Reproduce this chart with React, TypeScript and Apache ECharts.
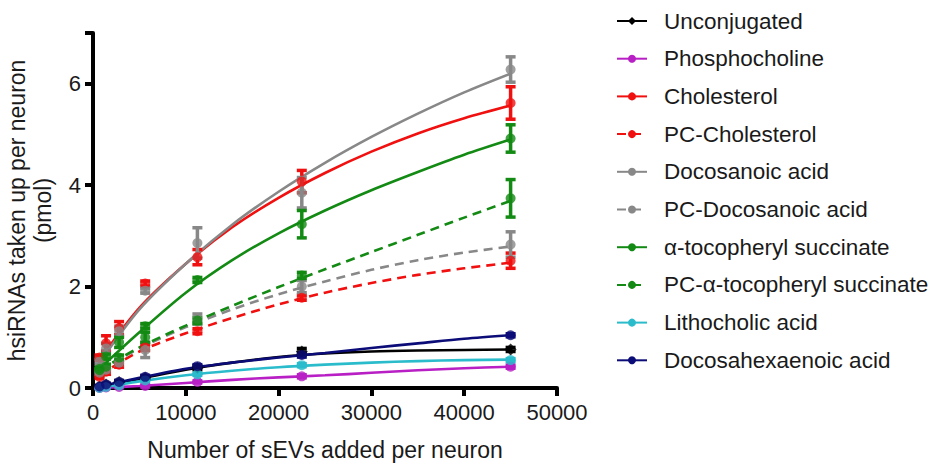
import React, { useEffect, useRef } from "react";
import * as echarts from "echarts";

const xPoints = [703, 1406, 2812, 5625, 11250, 22500, 45000];
const fitX = [703, 5000, 10000, 15000, 20000, 25000, 30000, 35000, 40000, 45000];

const names = [
  "Unconjugated",
  "Phosphocholine",
  "Cholesterol",
  "PC-Cholesterol",
  "Docosanoic acid",
  "PC-Docosanoic acid",
  "α-tocopheryl succinate",
  "PC-α-tocopheryl succinate",
  "Lithocholic acid",
  "Docosahexaenoic acid",
];

const colors = ["#000000", "#b81fc4", "#f01010", "#f01010", "#888888", "#888888", "#138a13", "#138a13", "#2bbccc", "#0c0c78"];
const dashed = [false, false, false, true, false, true, false, true, false, false];
const symbols = ["diamond", "circle", "circle", "circle", "circle", "circle", "circle", "circle", "circle", "circle"];

// measured means
const unconjugated = [0.03, 0.07, 0.12, 0.2, 0.4, 0.72, 0.76];
const phosphocholine = [0.0, 0.01, 0.02, 0.04, 0.12, 0.23, 0.42];
const cholesterol = [0.6, 0.88, 1.18, 2.06, 2.58, 4.07, 5.62];
const pcCholesterol = [0.22, 0.32, 0.46, 0.8, 1.12, 1.78, 2.51];
const docosanoic = [0.52, 0.78, 1.12, 1.92, 2.86, 3.85, 6.28];
const pcDocosanoic = [0.3, 0.36, 0.5, 0.75, 1.36, 2.0, 2.83];
const tocopheryl = [0.38, 0.62, 0.9, 1.22, 2.13, 3.23, 4.92];
const pcTocopheryl = [0.35, 0.42, 0.6, 1.0, 1.33, 2.22, 3.74];
const lithocholic = [0.0, 0.02, 0.05, 0.15, 0.27, 0.45, 0.55];
const docosahexaenoic = [0.03, 0.07, 0.12, 0.22, 0.43, 0.65, 1.04];

// error bars (±)
const errUnconjugated = [0.02, 0.02, 0.03, 0.03, 0.04, 0.06, 0.04];
const errPhosphocholine = [0.01, 0.01, 0.01, 0.02, 0.02, 0.03, 0.03];
const errCholesterol = [0.05, 0.15, 0.13, 0.05, 0.15, 0.22, 0.32];
const errPcCholesterol = [0.03, 0.05, 0.05, 0.06, 0.05, 0.05, 0.15];
const errDocosanoic = [0.05, 0.1, 0.1, 0.05, 0.3, 0.3, 0.25];
const errPcDocosanoic = [0.03, 0.05, 0.05, 0.15, 0.1, 0.12, 0.25];
const errTocopheryl = [0.03, 0.05, 0.1, 0.05, 0.05, 0.27, 0.27];
const errPcTocopheryl = [0.03, 0.05, 0.05, 0.1, 0.06, 0.06, 0.37];
const errLithocholic = [0.01, 0.01, 0.02, 0.02, 0.02, 0.03, 0.03];
const errDocosahexaenoic = [0.01, 0.02, 0.02, 0.03, 0.03, 0.04, 0.03];

// fitted curves read at fitX
const fitUnconjugated = [0.03, 0.18, 0.36, 0.5, 0.61, 0.68, 0.72, 0.74, 0.75, 0.76];
const fitPhosphocholine = [0.0, 0.04, 0.1, 0.16, 0.21, 0.25, 0.3, 0.35, 0.39, 0.42];
const fitCholesterol = [0.55, 1.58, 2.45, 3.17, 3.75, 4.24, 4.66, 5.02, 5.32, 5.57];
const fitPcCholesterol = [0.25, 0.72, 1.08, 1.38, 1.65, 1.88, 2.07, 2.23, 2.36, 2.47];
const fitDocosanoic = [0.5, 1.55, 2.45, 3.22, 3.87, 4.44, 4.95, 5.41, 5.83, 6.2];
const fitPcDocosanoic = [0.35, 0.78, 1.2, 1.55, 1.85, 2.1, 2.33, 2.52, 2.67, 2.79];
const fitTocopheryl = [0.38, 1.1, 1.88, 2.52, 3.05, 3.5, 3.9, 4.26, 4.6, 4.9];
const fitPcTocopheryl = [0.35, 0.8, 1.23, 1.62, 1.99, 2.34, 2.68, 3.02, 3.36, 3.69];
const fitLithocholic = [0.0, 0.13, 0.25, 0.34, 0.41, 0.46, 0.5, 0.53, 0.55, 0.56];
const fitDocosahexaenoic = [0.03, 0.2, 0.38, 0.5, 0.6, 0.69, 0.79, 0.88, 0.97, 1.04];

const means = [unconjugated, phosphocholine, cholesterol, pcCholesterol, docosanoic, pcDocosanoic, tocopheryl, pcTocopheryl, lithocholic, docosahexaenoic];
const errs = [errUnconjugated, errPhosphocholine, errCholesterol, errPcCholesterol, errDocosanoic, errPcDocosanoic, errTocopheryl, errPcTocopheryl, errLithocholic, errDocosahexaenoic];
const fits = [fitUnconjugated, fitPhosphocholine, fitCholesterol, fitPcCholesterol, fitDocosanoic, fitPcDocosanoic, fitTocopheryl, fitPcTocopheryl, fitLithocholic, fitDocosahexaenoic];

const xTicks = [0, 10000, 20000, 30000, 40000, 50000];
const yTicks = [0, 2, 4, 6];

const FONT = "'Liberation Sans', Arial, sans-serif";

export default function App() {
  const ref = useRef<HTMLDivElement>(null);
  useEffect(() => {
    if (!ref.current) return;
    const chart = echarts.init(ref.current, undefined, { renderer: "svg" });
    const series: any[] = [];
    names.forEach((name, i) => {
      series.push({
        name,
        type: "line",
        data: fitX.map((x, j) => [x, fits[i][j]]),
        smooth: 0.3,
        symbol: symbols[i],
        showSymbol: false,
        lineStyle: { color: colors[i], width: 2.6, type: dashed[i] ? [9, 6] : "solid" },
        itemStyle: { color: colors[i] },
        z: 2,
      });
    });
    names.forEach((name, i) => {
      series.push({
        name: name + " err",
        type: "custom",
        data: xPoints.map((x, j) => [x, means[i][j], means[i][j] - errs[i][j], means[i][j] + errs[i][j]]),
        renderItem: (params: any, api: any) => {
          const p = api.coord([api.value(0), api.value(1)]);
          const lo = api.coord([api.value(0), api.value(2)]);
          const hi = api.coord([api.value(0), api.value(3)]);
          const cw = 5;
          const st = { stroke: colors[i], lineWidth: 3.5 };
          return {
            type: "group",
            children: [
              { type: "line", shape: { x1: p[0], y1: lo[1], x2: p[0], y2: hi[1] }, style: st },
              { type: "line", shape: { x1: p[0] - cw, y1: lo[1], x2: p[0] + cw, y2: lo[1] }, style: st },
              { type: "line", shape: { x1: p[0] - cw, y1: hi[1], x2: p[0] + cw, y2: hi[1] }, style: st },
            ],
          };
        },
        z: 3,
      });
      series.push({
        name: name + " pts",
        type: "scatter",
        data: xPoints.map((x, j) => [x, means[i][j]]),
        symbol: symbols[i],
        symbolSize: symbols[i] === "diamond" ? 12 : 10,
        itemStyle: { color: colors[i] },
        z: 4,
      });
    });

    chart.setOption({
      animation: false,
      backgroundColor: "#ffffff",
      textStyle: { fontFamily: FONT },
      grid: { left: 93, right: 391, top: 33, bottom: 79, containLabel: false },
      legend: {
        data: names,
        orient: "vertical",
        left: 611,
        top: 4,
        itemWidth: 30,
        itemHeight: 10,
        itemGap: 13.7,
        selectedMode: false,
        textStyle: { fontSize: 22.5, lineHeight: 24, color: "#1a1a1a", fontFamily: FONT, padding: [0, 0, 0, 12] },
      },
      xAxis: {
        type: "value",
        min: 0,
        max: 50000,
        interval: 10000,
        name: "Number of sEVs added per neuron",
        nameLocation: "middle",
        nameGap: 50,
        nameTextStyle: { fontSize: 23, color: "#1a1a1a", fontFamily: FONT },
        axisLine: { show: true, lineStyle: { color: "#000", width: 4 } },
        axisTick: { show: true, length: 8, lineStyle: { color: "#000", width: 4 } },
        axisLabel: {
          fontSize: 22,
          color: "#1a1a1a",
          margin: 13,
          fontFamily: FONT,
          formatter: (v: number) => (xTicks.includes(v) ? String(v) : ""),
        },
        splitLine: { show: false },
      },
      yAxis: {
        type: "value",
        min: 0,
        max: 7,
        interval: 2,
        name: "hsiRNAs taken up per neuron\n(pmol)",
        nameLocation: "middle",
        nameGap: 37,
        nameTextStyle: { fontSize: 23, color: "#1a1a1a", fontFamily: FONT, lineHeight: 26 },
        axisLine: { show: true, lineStyle: { color: "#000", width: 4 } },
        axisTick: { show: true, length: 8, lineStyle: { color: "#000", width: 4 } },
        axisLabel: {
          fontSize: 22,
          color: "#1a1a1a",
          margin: 12,
          fontFamily: FONT,
          formatter: (v: number) => (yTicks.includes(v) ? String(v) : ""),
        },
        splitLine: { show: false },
      },
      series,
    });
    return () => chart.dispose();
  }, []);
  return (
    <div
      ref={ref}
      style={{ position: "fixed", left: 0, top: 0, width: 948, height: 467, background: "#fff" }}
    />
  );
}
